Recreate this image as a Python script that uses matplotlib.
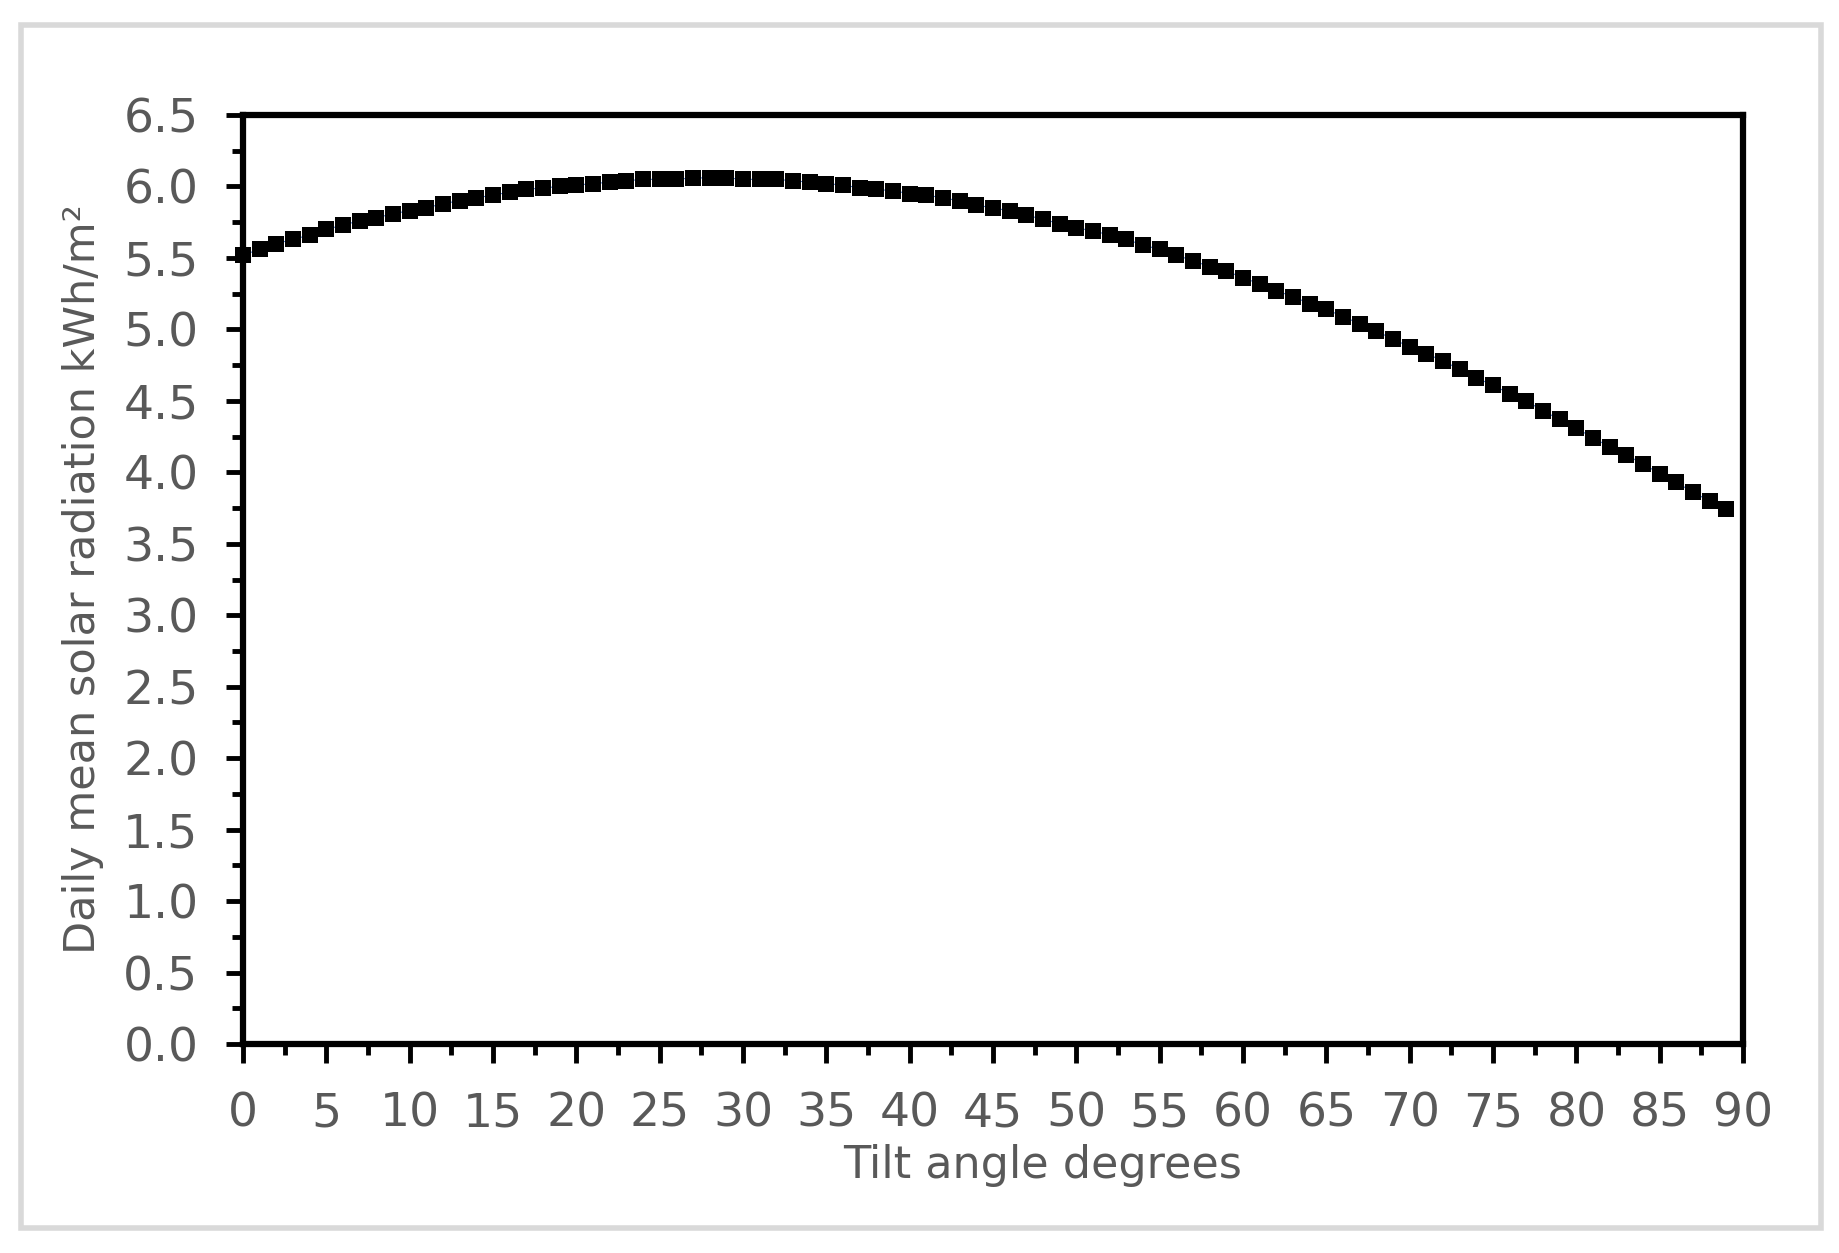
import matplotlib
matplotlib.use("Agg")
import matplotlib.pyplot as plt
from matplotlib.patches import Rectangle
from matplotlib.ticker import MultipleLocator, FormatStrFormatter

# tilt angle 0..89 degrees, one point per degree
tilt = list(range(0, 90))
radiation = [5.52, 5.56, 5.60, 5.63, 5.66, 5.70, 5.73, 5.76, 5.78, 5.81,
             5.83, 5.85, 5.88, 5.90, 5.92, 5.94, 5.96, 5.98, 5.99, 6.00,
             6.01, 6.02, 6.03, 6.04, 6.05, 6.05, 6.05, 6.06, 6.06, 6.06,
             6.05, 6.05, 6.05, 6.04, 6.03, 6.02, 6.01, 5.99, 5.98, 5.97,
             5.95, 5.94, 5.92, 5.90, 5.87, 5.85, 5.83, 5.80, 5.77, 5.74,
             5.71, 5.69, 5.66, 5.63, 5.59, 5.56, 5.52, 5.48, 5.44, 5.41,
             5.36, 5.32, 5.27, 5.23, 5.18, 5.14, 5.09, 5.04, 4.99, 4.93,
             4.88, 4.83, 4.78, 4.72, 4.66, 4.61, 4.55, 4.50, 4.43, 4.37,
             4.31, 4.24, 4.18, 4.12, 4.06, 3.99, 3.93, 3.86, 3.80, 3.74]

xlabel = "Tilt angle degrees"
ylabel = "Daily mean solar radiation kWh/m\u00b2"

grey = "#595959"
plt.rcParams["font.family"] = ["DejaVu Sans"]

fig = plt.figure(figsize=(18.39, 12.53), dpi=100)
ax = fig.add_axes([0.1321, 0.1668, 0.8157, 0.7414])

# light grey frame round the whole chart
fig.patches.append(Rectangle((21 / 1839, 1 - 1228 / 1253), 1800 / 1839, 1203 / 1253,
                             transform=fig.transFigure, fill=False,
                             edgecolor="#d9d9d9", linewidth=4))

ax.plot(tilt, radiation, color="#4472c4", linewidth=0.8,
        marker="s", markersize=11.5, markerfacecolor="black",
        markeredgecolor="black", markeredgewidth=0, clip_on=False, zorder=3)

ax.set_xlim(0, 90)
ax.set_ylim(0, 6.5)
ax.xaxis.set_major_locator(MultipleLocator(5))
ax.xaxis.set_minor_locator(MultipleLocator(2.5))
ax.yaxis.set_major_locator(MultipleLocator(0.5))
ax.yaxis.set_minor_locator(MultipleLocator(0.25))
ax.yaxis.set_major_formatter(FormatStrFormatter("%.1f"))

for s in ax.spines.values():
    s.set_linewidth(4.5)
    s.set_color("black")

ax.tick_params(which="both", direction="out", color="black", width=3.5,
               top=False, right=False)
ax.tick_params(which="major", length=12, labelsize=34, labelcolor=grey)
ax.tick_params(which="minor", length=8)
ax.tick_params(axis="x", which="major", length=14, pad=20)
ax.tick_params(axis="y", which="major", pad=20)

ax.set_xlabel(xlabel, fontsize=32, color=grey)
ax.xaxis.set_label_coords(0.533, -0.1442)
ax.xaxis.label.set_va("baseline")

ax.set_ylabel(ylabel, fontsize=31, color=grey)
ax.yaxis.set_label_coords(-0.1067, 0.5)
ax.yaxis.label.set_va("center")

fig.savefig("out.png", dpi=100)
